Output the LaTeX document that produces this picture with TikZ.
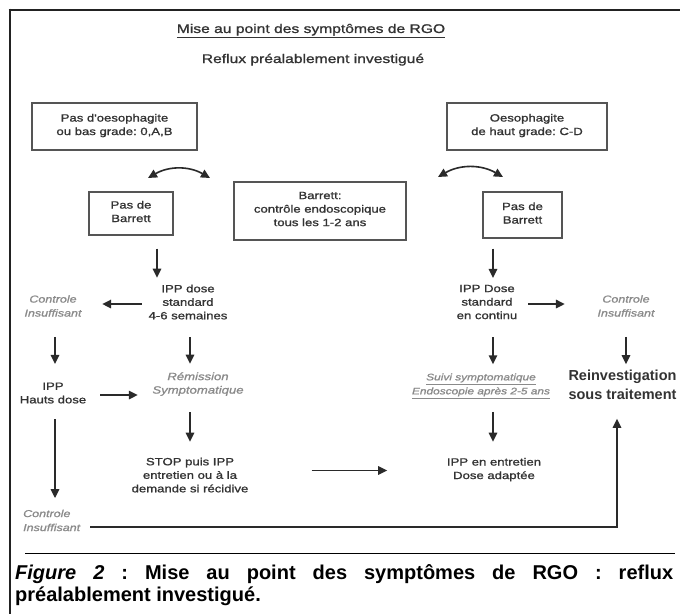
\documentclass[tikz,border=0pt]{standalone}
\usepackage{fontspec}
\setmainfont{Liberation Sans}
\newfontfamily\wsf[FakeStretch=1.25,FakeBold=1.2]{Liberation Sans}
\usetikzlibrary{arrows.meta}
\definecolor{ink}{HTML}{333333}
\definecolor{boxc}{HTML}{555555}
\definecolor{arrc}{HTML}{2A2A2A}
\definecolor{soft}{HTML}{8A8A8A}
\definecolor{framec}{HTML}{222222}
\frenchspacing
\begin{document}
\begin{tikzpicture}[x=1pt,y=-1pt,
  base/.style={inner sep=0pt, align=center, text=ink,
    execute at begin node=\strut, execute at end node=\strut},
  txt/.style={base, font=\wsf\fontsize{10.5}{13.5}\selectfont},
  head/.style={base, font=\wsf\fontsize{12.5}{15}\selectfont},
  ctrl/.style={base, text=soft, font=\wsf\itshape\fontsize{10}{14}\selectfont},
  softtxt/.style={base, text=soft, font=\wsf\itshape\fontsize{10.5}{13.5}\selectfont},
  suivi/.style={base, text=soft, font=\wsf\itshape\fontsize{9.5}{14}\selectfont},
  big/.style={base, font=\bfseries\fontsize{14.5}{19}\selectfont},
  box/.style={txt, draw=boxc, line width=1.4pt},
  arr/.style={draw=arrc, line width=1.6pt, -{Triangle[length=9pt,width=8.5pt]}},
  dbl/.style={draw=arrc, line width=1.6pt, {Triangle[length=9pt,width=8.5pt]}-{Triangle[length=9pt,width=8.5pt]}},
  captext/.style={inner sep=0pt, anchor=base west, text=black, font=\bfseries\fontsize{20}{22}\selectfont\frenchspacing}
]
\useasboundingbox (0,0) rectangle (680,614);
\fill[white] (0,0) rectangle (680,614);
% frame
\draw[framec, line width=2.6pt] (8.7,10) -- (680,10);
\draw[framec, line width=2.6pt] (10,8.7) -- (10,614);
\draw[black, line width=1pt] (25,553) -- (675,553);

% column helpers
\coordinate (xA) at (55,0);
\coordinate (xB1) at (157,0);
\coordinate (xB) at (190,0);
\coordinate (xC) at (493,0);

% headings
\node[head] (title) at (311,30) {\underline{Mise au point des symptômes de RGO}};
\node[head] (reflux) at (313,60) {Reflux préalablement investigué};

% boxes
\node[box, minimum width=165pt, minimum height=47pt] (b1) at (114.5,126.5) {Pas d'oesophagite\\ou bas grade: 0,A,B};
\node[box, minimum width=160pt, minimum height=47pt] (b2) at (527,126.5) {Oesophagite\\de haut grade: C-D};
\node[box, minimum width=84pt, minimum height=43pt] (pb1) at (131,213.5) {Pas de\\Barrett};
\node[box, minimum width=172pt, minimum height=58pt] (bar) at (320,211) {Barrett:\\contrôle endoscopique\\tous les 1-2 ans};
\node[box, minimum width=79pt, minimum height=46pt] (pb2) at (522.5,215) {Pas de\\Barrett};

% left column
\node[txt] (ipp1) at (188,304) {IPP dose\\standard\\4-6 semaines};
\node[ctrl] (ctrl1) at (53,308) {Controle\\Insuffisant};
\node[txt] (ipph) at (53,395) {IPP\\Hauts dose};
\node[softtxt] (rem) at (198,385) {Rémission\\Symptomatique};
\node[txt] (stop) at (190,477) {STOP puis IPP\\entretien ou à la\\demande si récidive};
\node[ctrl, align=left, anchor=west] (ctrl3) at (23,522.5) {Controle\\Insuffisant};

% right column
\node[txt] (ipp2) at (487,304) {IPP Dose\\standard\\en continu};
\node[ctrl] (ctrl2) at (626,308) {Controle\\Insuffisant};
\node[suivi] (suivi) at (481,386) {\underline{Suivi symptomatique}\\\underline{Endoscopie après 2-5 ans}};
\node[big] (reinv) at (622.5,388) {Reinvestigation\\sous traitement};
\node[txt] (entret) at (494,470.5) {IPP en entretien\\Dose adaptée};

% curved double arrows
\coordinate (cl1) at (148,178);
\coordinate (cl2) at (210,178);
\coordinate (cr1) at (438,177);
\coordinate (cr2) at (503,177);
\draw[dbl] (cl1) to[bend left=30] (cl2);
\draw[dbl] (cr1) to[bend left=30] (cr2);

% connectors
\draw[arr, shorten <=13pt, shorten >=6.75pt] (pb1.south -| xB1) -- (ipp1.north -| xB1);
\draw[arr, shorten <=10pt, shorten >=6.75pt] (pb2.south -| xC) -- (ipp2.north -| xC);
\draw[arr, shorten <=6.6pt, shorten >=20.5pt] (ipp1.west) -- (ipp1.west -| ctrl1.east);
\draw[arr, shorten <=16pt, shorten >=18.5pt] (ctrl1.south -| xA) -- (ipph.north -| xA);
\draw[arr, shorten <=13.8pt, shorten >=14.4pt] (ipph.east) -- (ipph.east -| rem.west);
\draw[arr, shorten <=13.75pt, shorten >=8.5pt] (ipp1.south -| xB) -- (rem.north -| xB);
\draw[arr, shorten <=14.5pt, shorten >=15.75pt] (rem.south -| xB) -- (stop.north -| xB);
\draw[arr, shorten <=63pt, shorten >=59.6pt] (stop.east |- entret.west) -- (entret.west);
\draw[arr, shorten <=10.7pt, shorten >=32.5pt] (ipp2.east) -- (ipp2.east -| ctrl2.west);
\draw[arr, shorten <=16pt, shorten >=6pt] (ctrl2.south) -- (ctrl2.south |- reinv.north);
\draw[arr, shorten <=13.75pt, shorten >=9pt] (ipp2.south -| xC) -- (suivi.north -| xC);
\draw[arr, shorten <=13pt, shorten >=16pt] (suivi.south -| xC) -- (entret.north -| xC);
\draw[arr, shorten <=11.5pt, shorten >=11.5pt] (ipph.south -| xA) -- (ctrl3.north -| xA);
\draw[arr, shorten <=10pt, shorten >=13pt] ([yshift=-4.5pt]ctrl3.east) -| ([xshift=-5.5pt]reinv.south);

% caption
\node[captext] (cap1) at (15,579) {\makebox[658pt][s]{\textit{Figure 2} : Mise au point des symptômes de RGO : reflux}};
\node[captext] (cap2) at (15,601) {préalablement investigué.};
\end{tikzpicture}
\end{document}
